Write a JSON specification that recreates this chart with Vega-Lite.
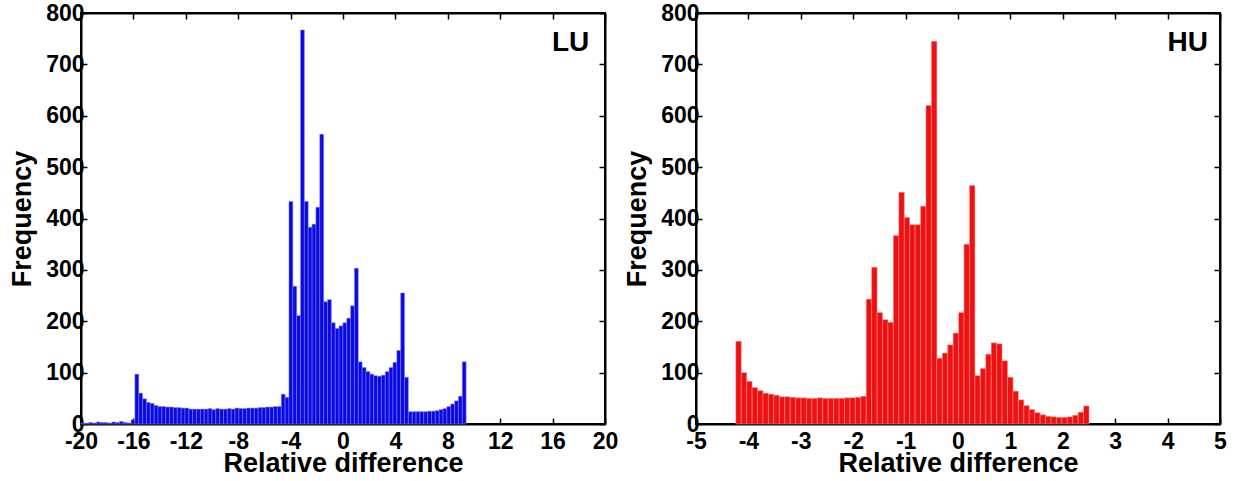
{
  "$schema": "https://vega.github.io/schema/vega-lite/v6.json",
  "autosize": {"type": "pad"},
  "padding": {"left": 7, "top": 1, "right": 10, "bottom": 3},
  "background": "white",
  "config": {
    "font": "Liberation Sans",
    "view": {"stroke": "black", "strokeWidth": 2},
    "axis": {
      "labelFont": "Liberation Sans", "labelFontWeight": "bold", "labelFontSize": 23, "labelColor": "black",
      "titleFont": "Liberation Sans", "titleFontWeight": "bold", "titleFontSize": 27, "titleColor": "black",
      "domainColor": "black", "domainWidth": 2, "tickColor": "black", "tickWidth": 1.5, "tickSize": -6,
      "labelPadding": 3, "labelOverlap": false, "labelFlush": false, "grid": false,
      "labelExpr": "'' + datum.value"
    }
  },
  "datasets": {
    "lu": [
      {"a":-20,"b":-19.706,"n":2},{"a":-19.706,"b":-19.412,"n":1},{"a":-19.412,"b":-19.118,"n":3},{"a":-19.118,"b":-18.824,"n":2},
      {"a":-18.824,"b":-18.53,"n":4},{"a":-18.53,"b":-18.236,"n":3},{"a":-18.236,"b":-17.942,"n":3},{"a":-17.942,"b":-17.648,"n":2},
      {"a":-17.648,"b":-17.354,"n":4},{"a":-17.354,"b":-17.06,"n":3},{"a":-17.06,"b":-16.766,"n":5},{"a":-16.766,"b":-16.472,"n":3},
      {"a":-16.472,"b":-16.178,"n":2},{"a":-16.178,"b":-15.884,"n":8},{"a":-15.884,"b":-15.59,"n":97},{"a":-15.59,"b":-15.296,"n":60},
      {"a":-15.296,"b":-15.002,"n":49},{"a":-15.002,"b":-14.708,"n":42},{"a":-14.708,"b":-14.414,"n":40},{"a":-14.414,"b":-14.12,"n":36},
      {"a":-14.12,"b":-13.826,"n":34},{"a":-13.826,"b":-13.532,"n":34},{"a":-13.532,"b":-13.238,"n":33},{"a":-13.238,"b":-12.944,"n":33},
      {"a":-12.944,"b":-12.65,"n":32},{"a":-12.65,"b":-12.356,"n":32},{"a":-12.356,"b":-12.062,"n":31},{"a":-12.062,"b":-11.768,"n":31},
      {"a":-11.768,"b":-11.474,"n":29},{"a":-11.474,"b":-11.18,"n":29},{"a":-11.18,"b":-10.886,"n":29},{"a":-10.886,"b":-10.592,"n":29},
      {"a":-10.592,"b":-10.298,"n":29},{"a":-10.298,"b":-10.004,"n":30},{"a":-10.004,"b":-9.71,"n":28},{"a":-9.71,"b":-9.416,"n":30},
      {"a":-9.416,"b":-9.122,"n":29},{"a":-9.122,"b":-8.828,"n":29},{"a":-8.828,"b":-8.534,"n":30},{"a":-8.534,"b":-8.24,"n":29},
      {"a":-8.24,"b":-7.946,"n":31},{"a":-7.946,"b":-7.652,"n":30},{"a":-7.652,"b":-7.358,"n":30},{"a":-7.358,"b":-7.064,"n":31},
      {"a":-7.064,"b":-6.77,"n":31},{"a":-6.77,"b":-6.476,"n":31},{"a":-6.476,"b":-6.182,"n":32},{"a":-6.182,"b":-5.888,"n":32},
      {"a":-5.888,"b":-5.594,"n":33},{"a":-5.594,"b":-5.3,"n":33},{"a":-5.3,"b":-5.006,"n":34},{"a":-5.006,"b":-4.712,"n":34},
      {"a":-4.712,"b":-4.418,"n":58},{"a":-4.418,"b":-4.124,"n":52},{"a":-4.124,"b":-3.83,"n":433},{"a":-3.83,"b":-3.536,"n":268},
      {"a":-3.536,"b":-3.242,"n":211},{"a":-3.242,"b":-2.948,"n":767},{"a":-2.948,"b":-2.654,"n":433},{"a":-2.654,"b":-2.36,"n":383},
      {"a":-2.36,"b":-2.066,"n":389},{"a":-2.066,"b":-1.772,"n":422},{"a":-1.772,"b":-1.478,"n":564},{"a":-1.478,"b":-1.184,"n":238},
      {"a":-1.184,"b":-0.89,"n":242},{"a":-0.89,"b":-0.596,"n":197},{"a":-0.596,"b":-0.302,"n":186},{"a":-0.302,"b":-0.008,"n":191},
      {"a":-0.008,"b":0.286,"n":197},{"a":0.286,"b":0.58,"n":206},{"a":0.58,"b":0.874,"n":230},{"a":0.874,"b":1.168,"n":303},
      {"a":1.168,"b":1.462,"n":121},{"a":1.462,"b":1.756,"n":110},{"a":1.756,"b":2.05,"n":102},{"a":2.05,"b":2.344,"n":97},
      {"a":2.344,"b":2.638,"n":94},{"a":2.638,"b":2.932,"n":93},{"a":2.932,"b":3.226,"n":95},{"a":3.226,"b":3.52,"n":102},
      {"a":3.52,"b":3.814,"n":110},{"a":3.814,"b":4.108,"n":120},{"a":4.108,"b":4.402,"n":143},{"a":4.402,"b":4.696,"n":255},
      {"a":4.696,"b":4.99,"n":91},{"a":4.99,"b":5.284,"n":24},{"a":5.284,"b":5.578,"n":24},{"a":5.578,"b":5.872,"n":24},
      {"a":5.872,"b":6.166,"n":24},{"a":6.166,"b":6.46,"n":24},{"a":6.46,"b":6.754,"n":25},{"a":6.754,"b":7.048,"n":25},
      {"a":7.048,"b":7.342,"n":26},{"a":7.342,"b":7.636,"n":28},{"a":7.636,"b":7.93,"n":30},{"a":7.93,"b":8.224,"n":34},
      {"a":8.224,"b":8.518,"n":39},{"a":8.518,"b":8.812,"n":45},{"a":8.812,"b":9.106,"n":54},{"a":9.106,"b":9.4,"n":121}
    ],
    "hu": [
      {"a":-4.24,"b":-4.136,"n":161},{"a":-4.136,"b":-4.033,"n":100},{"a":-4.033,"b":-3.929,"n":83},{"a":-3.929,"b":-3.825,"n":71},
      {"a":-3.825,"b":-3.722,"n":65},{"a":-3.722,"b":-3.618,"n":60},{"a":-3.618,"b":-3.514,"n":58},{"a":-3.514,"b":-3.41,"n":56},
      {"a":-3.41,"b":-3.307,"n":53},{"a":-3.307,"b":-3.203,"n":53},{"a":-3.203,"b":-3.099,"n":52},{"a":-3.099,"b":-2.996,"n":51},
      {"a":-2.996,"b":-2.892,"n":51},{"a":-2.892,"b":-2.788,"n":50},{"a":-2.788,"b":-2.685,"n":50},{"a":-2.685,"b":-2.581,"n":51},
      {"a":-2.581,"b":-2.477,"n":50},{"a":-2.477,"b":-2.373,"n":50},{"a":-2.373,"b":-2.27,"n":50},{"a":-2.27,"b":-2.166,"n":50},
      {"a":-2.166,"b":-2.062,"n":51},{"a":-2.062,"b":-1.959,"n":51},{"a":-1.959,"b":-1.855,"n":52},{"a":-1.855,"b":-1.751,"n":54},
      {"a":-1.751,"b":-1.648,"n":243},{"a":-1.648,"b":-1.544,"n":305},{"a":-1.544,"b":-1.44,"n":217},{"a":-1.44,"b":-1.336,"n":203},
      {"a":-1.336,"b":-1.233,"n":198},{"a":-1.233,"b":-1.129,"n":367},{"a":-1.129,"b":-1.025,"n":451},{"a":-1.025,"b":-0.922,"n":402},
      {"a":-0.922,"b":-0.818,"n":388},{"a":-0.818,"b":-0.714,"n":388},{"a":-0.714,"b":-0.611,"n":424},{"a":-0.611,"b":-0.507,"n":620},
      {"a":-0.507,"b":-0.403,"n":745},{"a":-0.403,"b":-0.299,"n":128},{"a":-0.299,"b":-0.196,"n":138},{"a":-0.196,"b":-0.092,"n":154},
      {"a":-0.092,"b":0.012,"n":177},{"a":0.012,"b":0.115,"n":217},{"a":0.115,"b":0.219,"n":350},{"a":0.219,"b":0.323,"n":464},
      {"a":0.323,"b":0.427,"n":94},{"a":0.427,"b":0.53,"n":108},{"a":0.53,"b":0.634,"n":136},{"a":0.634,"b":0.738,"n":158},
      {"a":0.738,"b":0.841,"n":156},{"a":0.841,"b":0.945,"n":123},{"a":0.945,"b":1.049,"n":91},{"a":1.049,"b":1.152,"n":64},
      {"a":1.152,"b":1.256,"n":47},{"a":1.256,"b":1.36,"n":36},{"a":1.36,"b":1.464,"n":28},{"a":1.464,"b":1.567,"n":22},
      {"a":1.567,"b":1.671,"n":18},{"a":1.671,"b":1.775,"n":15},{"a":1.775,"b":1.878,"n":14},{"a":1.878,"b":1.982,"n":13},
      {"a":1.982,"b":2.086,"n":13},{"a":2.086,"b":2.189,"n":14},{"a":2.189,"b":2.293,"n":17},{"a":2.293,"b":2.397,"n":23},
      {"a":2.397,"b":2.501,"n":35}
    ],
    "luLabel": [{"t": "LU"}],
    "huLabel": [{"t": "HU"}]
  },
  "hconcat": [
    {
      "width": 524, "height": 411,
      "resolve": {"axis": {"x": "independent", "y": "independent"}},
      "layer": [
        {
          "data": {"name": "lu"},
          "mark": {"type": "bar", "color": "#0a0ae0", "stroke": "#8080ff", "strokeWidth": 0.5},
          "encoding": {
            "x": {"field": "a", "type": "quantitative", "scale": {"domain": [-20, 20], "nice": false, "zero": false},
                  "axis": {"orient": "bottom", "values": [-20,-16,-12,-8,-4,0,4,8,12,16,20], "title": "Relative difference", "labelPadding": 12, "titlePadding": -3}},
            "x2": {"field": "b"},
            "y": {"field": "n", "type": "quantitative", "scale": {"domain": [0, 800], "nice": false},
                  "axis": {"orient": "left", "values": [0,100,200,300,400,500,600,700,800], "title": "Frequency", "titlePadding": 9}},
            "y2": {"datum": 0}
          }
        },
        {
          "data": {"name": "lu"},
          "mark": {"type": "bar", "opacity": 0},
          "encoding": {
            "x": {"field": "a", "type": "quantitative",
                  "axis": {"orient": "top", "values": [-20,-16,-12,-8,-4,0,4,8,12,16,20], "labels": false, "title": null}},
            "x2": {"field": "b"},
            "y": {"field": "n", "type": "quantitative",
                  "axis": {"orient": "right", "values": [0,100,200,300,400,500,600,700,800], "labels": false, "title": null}},
            "y2": {"datum": 0}
          }
        },
        {
          "data": {"name": "luLabel"},
          "mark": {"type": "text", "align": "right", "baseline": "alphabetic", "fontSize": 28, "fontWeight": "bold", "font": "Liberation Sans", "color": "black"},
          "encoding": {
            "x": {"datum": 18.8, "type": "quantitative", "axis": null},
            "y": {"datum": 726, "type": "quantitative", "axis": null},
            "text": {"field": "t"}
          }
        }
      ]
    },
    {
      "width": 524, "height": 411,
      "resolve": {"axis": {"x": "independent", "y": "independent"}},
      "layer": [
        {
          "data": {"name": "hu"},
          "mark": {"type": "bar", "color": "#ee1111", "stroke": "#ff9090", "strokeWidth": 0.5},
          "encoding": {
            "x": {"field": "a", "type": "quantitative", "scale": {"domain": [-5, 5], "nice": false, "zero": false},
                  "axis": {"orient": "bottom", "values": [-5,-4,-3,-2,-1,0,1,2,3,4,5], "title": "Relative difference", "labelPadding": 12, "titlePadding": -3}},
            "x2": {"field": "b"},
            "y": {"field": "n", "type": "quantitative", "scale": {"domain": [0, 800], "nice": false},
                  "axis": {"orient": "left", "values": [0,100,200,300,400,500,600,700,800], "title": "Frequency", "titlePadding": 9}},
            "y2": {"datum": 0}
          }
        },
        {
          "data": {"name": "hu"},
          "mark": {"type": "bar", "opacity": 0},
          "encoding": {
            "x": {"field": "a", "type": "quantitative",
                  "axis": {"orient": "top", "values": [-5,-4,-3,-2,-1,0,1,2,3,4,5], "labels": false, "title": null}},
            "x2": {"field": "b"},
            "y": {"field": "n", "type": "quantitative",
                  "axis": {"orient": "right", "values": [0,100,200,300,400,500,600,700,800], "labels": false, "title": null}},
            "y2": {"datum": 0}
          }
        },
        {
          "data": {"name": "huLabel"},
          "mark": {"type": "text", "align": "right", "baseline": "alphabetic", "fontSize": 28, "fontWeight": "bold", "font": "Liberation Sans", "color": "black"},
          "encoding": {
            "x": {"datum": 4.77, "type": "quantitative", "axis": null},
            "y": {"datum": 726, "type": "quantitative", "axis": null},
            "text": {"field": "t"}
          }
        }
      ]
    }
  ],
  "spacing": 91,
  "bounds": "flush"
}
